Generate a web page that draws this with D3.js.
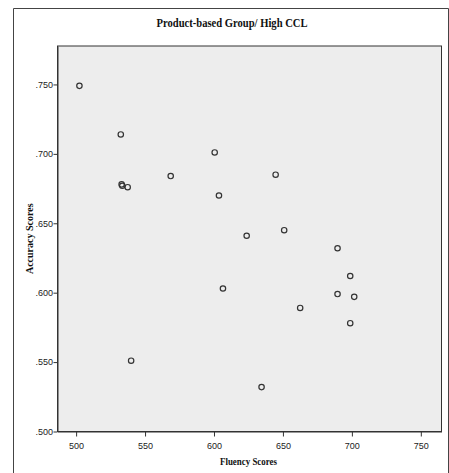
<!DOCTYPE html>
<html>
<head>
<meta charset="utf-8">
<script src="https://cdn.jsdelivr.net/npm/d3@7"></script>
<style>
  body { margin: 0; background: #fff; }
  svg { display: block; }
  .tick text { font-family: "Liberation Sans Narrow", "Liberation Sans", sans-serif; font-size: 9px; fill: #222; }
  .title, .axis-title { font-family: "Liberation Serif", "Times New Roman", serif; font-weight: bold; fill: #111; }
</style>
</head>
<body>
<div id="chart"></div>
<script>
// Fluency vs accuracy
const fluency  = [502.4, 532.4, 533.0, 533.5, 537.4, 568.6, 600.5, 603.6, 623.7, 644.7, 650.9, 689.6, 698.8, 606.5, 689.6, 701.7, 662.5, 698.8, 634.5, 539.9];
const accuracy = [0.749, 0.714, 0.678, 0.677, 0.676, 0.684, 0.701, 0.670, 0.641, 0.685, 0.645, 0.632, 0.612, 0.603, 0.599, 0.597, 0.589, 0.578, 0.532, 0.551];
const xTicks = [500, 550, 600, 650, 700, 750];
const yTicks = [0.500, 0.550, 0.600, 0.650, 0.700, 0.750];

const width = 449, height = 473;
const plot = { left: 57.5, top: 46, right: 441.5, bottom: 431.5 };

const svg = d3.select('#chart').append('svg')
  .attr('width', width)
  .attr('height', height);

// outer frame
svg.append('path')
  .attr('d', `M13.5,${height + 2} V8.5 H448.5 V${height + 2}`)
  .attr('fill', 'none')
  .attr('stroke', '#444')
  .attr('stroke-width', 1);

svg.append('text')
  .attr('class', 'title')
  .attr('x', 232)
  .attr('y', 27)
  .attr('text-anchor', 'middle')
  .attr('font-size', 12.5)
  .attr('textLength', 151)
  .attr('lengthAdjust', 'spacingAndGlyphs')
  .text('Product-based Group/ High CCL');

const x = d3.scaleLinear().domain([486.5, 765]).range([plot.left, plot.right]);
const y = d3.scaleLinear().domain([0.5, 0.7777]).range([plot.bottom, plot.top]);

// plot background
svg.append('rect')
  .attr('x', plot.left)
  .attr('y', plot.top)
  .attr('width', plot.right - plot.left)
  .attr('height', plot.bottom - plot.top)
  .attr('fill', '#ededed')
  .attr('stroke', '#333')
  .attr('stroke-width', 1);

const xAxis = svg.append('g')
  .attr('transform', `translate(0,${plot.bottom})`)
  .call(d3.axisBottom(x).tickValues(xTicks).tickSize(5).tickSizeOuter(0).tickFormat(d3.format('d')));

const yAxis = svg.append('g')
  .attr('transform', `translate(${plot.left},0)`)
  .call(d3.axisLeft(y).tickValues(yTicks).tickSize(4).tickSizeOuter(0).tickFormat(d => d3.format('.3f')(d).replace(/^0/, '')));

[xAxis, yAxis].forEach(a => {
  a.select('.domain').attr('stroke', '#333');
  a.selectAll('.tick line').attr('stroke', '#333');
});
xAxis.selectAll('.tick text').attr('dy', '1.05em');
yAxis.selectAll('.tick text').attr('x', -4.5);

svg.append('text')
  .attr('class', 'axis-title')
  .attr('x', 248.5)
  .attr('y', 465)
  .attr('text-anchor', 'middle')
  .attr('font-size', 10)
  .attr('textLength', 57)
  .attr('lengthAdjust', 'spacingAndGlyphs')
  .text('Fluency Scores');

svg.append('text')
  .attr('class', 'axis-title')
  .attr('transform', `translate(33,${(plot.top + plot.bottom) / 2}) rotate(-90)`)
  .attr('text-anchor', 'middle')
  .attr('font-size', 10)
  .text('Accuracy Scores');

svg.append('g')
  .selectAll('circle')
  .data(fluency.map((f, i) => ({ f, a: accuracy[i] })))
  .join('circle')
  .attr('cx', d => x(d.f))
  .attr('cy', d => y(d.a))
  .attr('r', 2.7)
  .attr('fill', 'none')
  .attr('stroke', '#333')
  .attr('stroke-width', 1.2);
</script>
</body>
</html>
